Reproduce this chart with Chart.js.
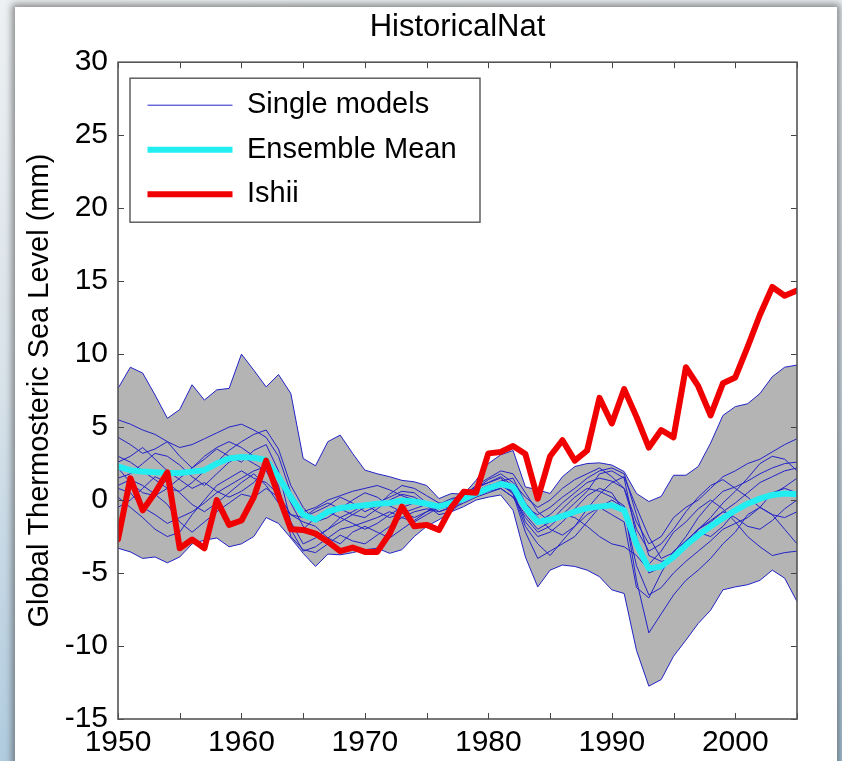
<!DOCTYPE html>
<html>
<head>
<meta charset="utf-8">
<title>HistoricalNat</title>
<script src="https://cdn.jsdelivr.net/npm/chart.js@4.4.1/dist/chart.umd.min.js"></script>
<style>
  body {
    margin: 0;
    width: 842px;
    height: 761px;
    overflow: hidden;
    position: relative;
    background: linear-gradient(175deg, #eef1f3 0%, #d9e3ea 45%, #a9c8de 100%);
  }
  .panel {
    position: absolute;
    left: 15px;
    top: 7px;
    width: 822px;
    height: 790px;
    background: #fff;
    box-shadow: 0 0 7px 3px rgba(70, 70, 70, 0.6);
  }
  #chart {
    position: absolute;
    left: 0;
    top: 0;
  }
</style>
</head>
<body>
<div class="panel"></div>
<canvas id="chart" width="842" height="761"></canvas>
<script>
// Years on the x axis
var years = [
  1950, 1951, 1952, 1953, 1954, 1955, 1956, 1957, 1958, 1959,
  1960, 1961, 1962, 1963, 1964, 1965, 1966, 1967, 1968, 1969,
  1970, 1971, 1972, 1973, 1974, 1975, 1976, 1977, 1978, 1979,
  1980, 1981, 1982, 1983, 1984, 1985, 1986, 1987, 1988, 1989,
  1990, 1991, 1992, 1993, 1994, 1995, 1996, 1997, 1998, 1999,
  2000, 2001, 2002, 2003, 2004, 2005
];

// Ishii observations (mm)
var ishii = [
  -2.7, 1.5, -0.7, 0.5, 1.9, -3.3, -2.7, -3.3, 0.0, -1.7,
  -1.4, 0.2, 2.7, 0.3, -2.0, -2.05, -2.3, -2.85, -3.5, -3.25,
  -3.55, -3.55, -2.3, -0.45, -1.8, -1.7, -2.05, -0.5, 0.57, 0.5,
  3.2, 3.3, 3.7, 3.15, 0.1, 3.0, 4.1, 2.7, 3.4, 7.0,
  5.25, 7.6, 5.7, 3.6, 4.8, 4.3, 9.1, 7.8, 5.8, 8.0,
  8.4, 10.5, 12.7, 14.6, 14.0, 14.35
];

// Ensemble mean
var ensembleMean = [
  2.3, 2.05, 1.95, 1.9, 1.85, 1.85, 1.95, 2.05, 2.5, 2.85,
  2.95, 2.9, 2.75, 1.6, 0.2, -1.0, -1.35, -0.8, -0.55, -0.45,
  -0.35, -0.25, -0.2, -0.05, -0.1, -0.25, -0.45, -0.2, 0.1, 0.45,
  0.8, 1.1, 0.9, -0.55, -1.5, -1.35, -1.1, -0.8, -0.55, -0.45,
  -0.35, -0.7, -3.0, -4.7, -4.55, -3.9, -3.1, -2.4, -1.8, -1.25,
  -0.7, -0.25, 0.1, 0.35, 0.45, 0.4
];

// Model spread (max / min of the single models)
var spreadMax = [
  7.65, 9.1, 8.7, 7.2, 5.6, 6.2, 7.9, 6.85, 7.55, 7.65,
  10.0, 8.9, 7.75, 8.6, 7.3, 2.85, 2.35, 4.0, 4.45, 3.2,
  2.05, 1.8, 1.6, 1.35, 1.25, 1.0, 0.1, 0.45, 0.4, 1.35,
  2.5, 3.1, 3.4, 0.9, 0.7, 0.45, 1.6, 2.3, 2.5, 2.55,
  2.4, 1.95, 0.45, -0.1, 0.25, 1.7, 1.7, 2.3, 3.9, 5.8,
  6.4, 6.6, 7.3, 8.45, 9.1, 9.25
];
var spreadMin = [
  -3.3, -3.55, -4.0, -3.9, -4.3, -3.9, -3.0, -2.75, -2.6, -3.2,
  -3.0, -2.5, -1.2, -1.6, -2.6, -3.65, -4.55, -3.7, -3.75, -3.6,
  -3.4, -3.3, -3.65, -3.4, -2.5, -1.8, -1.35, -0.8, -0.45, 0.0,
  0.2, 0.35, -0.7, -3.9, -5.95, -4.8, -4.45, -4.55, -4.8, -5.25,
  -6.15, -6.4, -10.3, -12.75, -12.3, -10.7, -9.6, -8.45, -7.55, -6.15,
  -5.95, -5.8, -5.5, -4.8, -5.35, -6.95
];

// Single model runs
var modelA = [
  5.5, 5.2, 4.8, 4.5, 4.0, 3.6, 3.8, 4.2, 4.6, 5.0,
  5.2, 4.8, 4.3, 3.0, 0.5, -0.8, -0.5, 0.0, 0.3, 0.6,
  0.8, 1.0, 0.7, 0.3, 0.0, -0.4, -0.6, -0.3, 0.3, 0.8,
  1.2, 1.6, 1.0, -0.8, -1.5, -1.0, -0.2, 0.5, 1.2, 1.5,
  1.3, 0.8, -1.5, -3.0, -2.5, -1.2, -0.5, 0.0, 0.8, 1.6,
  2.0, 2.5, 2.8, 3.3, 3.8, 4.2
];
var modelB = [
  4.3, 3.8, 3.2, 3.5, 4.0, 3.0, 2.2, 2.8, 3.5, 3.0,
  2.6, 3.4, 3.8, 2.0, -1.5, -3.0, -2.6, -2.0, -1.2, -0.8,
  -0.3, -0.8, -1.2, -0.9, -0.6, -0.3, -0.6, -0.4, 0.2, 0.4,
  0.9, 1.3, 1.5, -0.2, -1.2, -2.0, -2.4, -1.8, -0.6, 0.4,
  1.2, 1.6, -0.5, -2.5, -4.0, -3.6, -2.5, -1.2, -0.2, 0.6,
  0.9, 1.3, 1.8, 2.2, 2.5, 2.6
];
var modelC = [
  0.8, 0.5, -0.5, -1.0, -1.6, -1.2, -0.8, -0.2, 0.5, 1.0,
  1.5, 2.0, 2.3, 1.5, -0.2, -1.8, -2.5, -2.0, -1.5, -1.0,
  -0.5, -0.2, 0.2, 0.6, 0.5, -0.2, -0.8, -0.5, 0.0, 0.5,
  0.8, 1.0, 0.6, -1.5, -2.5, -2.2, -1.5, -0.6, 0.3, 0.8,
  0.5, -0.8, -4.5, -6.5, -6.0, -5.0, -4.2, -3.5, -2.8, -2.0,
  -1.6, -1.2, -0.5, 0.5, 0.8, 0.5
];
var modelD = [
  3.0, 2.6, 2.0, 1.4, 0.8, 0.6, 1.2, 2.0, 2.6, 3.4,
  4.0, 4.5, 4.8, 3.5, 1.0, -0.5, -1.5, -1.2, -0.6, 0.0,
  0.5, 0.2, -0.4, -0.8, -1.2, -0.8, -0.3, 0.1, 0.3, 1.0,
  1.5, 2.0, 1.8, 0.5, -0.8, -1.5, -1.0, -0.2, 0.6, 1.8,
  2.0, 1.5, -2.5, -5.0, -4.6, -3.8, -2.8, -2.0, -1.5, -0.8,
  -0.2, 0.5, 1.2, 1.6, 2.0, 2.2
];
var modelE = [
  1.5, 1.8, 2.5, 3.2, 3.0, 2.4, 1.6, 1.0, 1.8, 2.6,
  3.0, 2.5, 2.0, 0.5, -2.0, -3.5, -3.2, -2.6, -2.0, -1.8,
  -1.5, -1.2, -0.8, -1.2, -1.5, -1.0, -0.5, 0.0, 0.4, 0.6,
  1.0, 1.2, 0.4, -2.2, -4.0, -3.5, -3.0, -2.5, -1.5, -0.5,
  0.0, -0.5, -5.5, -9.1, -7.8, -6.5, -5.5, -4.8, -4.0, -3.0,
  -2.2, -1.0, -0.5, -1.0, -2.0, -3.0
];
var modelF = [
  2.2, 1.2, 0.5, 0.3, 0.8, 1.5, 2.2, 3.0, 3.6, 4.0,
  3.6, 3.0, 2.6, 1.0, -2.5, -3.4, -3.6, -3.0, -2.4, -2.8,
  -3.0, -2.4, -1.8, -1.2, -0.8, -0.6, -0.8, -0.5, 0.0, 0.3,
  0.6, 0.8, 0.2, -1.0, -2.0, -1.5, -0.6, 0.2, 0.8, 0.6,
  0.2, -0.4, -3.0, -4.4, -3.5, -2.2, -1.5, -0.6, 0.0, -0.6,
  -1.5, -2.5, -3.2, -3.8, -3.6, -3.5
];
var modelG = [
  -0.5, 0.0, 0.8, 1.6, 1.2, 0.5, -0.3, -0.8, -0.2, 0.5,
  1.2, 1.8, 1.0, -0.2, -1.0, -1.5, -1.8, -2.6, -3.0, -2.2,
  -1.8, -2.2, -2.6, -2.0, -1.4, -0.8, -0.5, -0.2, 0.3, 0.8,
  1.4, 1.8, 1.2, 0.2, -0.5, 0.0, 0.8, 1.4, 1.8, 2.2,
  1.6, 0.8, -2.0, -3.5, -3.0, -2.0, -0.8, 0.2, 1.0, 1.4,
  0.8, 0.2, -0.5, -1.0, -1.2, -0.8
];
var modelH = [
  1.0, 1.4, 1.0, 0.4, -0.3, -1.5, -2.2, -1.5, -0.8, -0.2,
  0.4, 0.2, 0.8, 0.2, -1.8, -2.0, -1.2, -0.8, -1.2, -1.6,
  -2.0, -1.6, -1.0, -0.5, -0.2, -0.4, -1.0, -0.8, 0.0, 0.4,
  0.7, 1.0, 0.5, -1.8, -3.0, -3.8, -2.8, -1.8, -1.0, -0.5,
  -1.0, -1.5, -6.0, -6.7, -5.0, -3.5, -2.8, -2.2, -2.5, -1.8,
  -0.8, -0.3, 0.2, 0.4, 0.9, 1.5
];
var modelI = [
  2.6, 3.0, 3.6, 2.8, 2.0, 1.4, 0.8, 1.2, 0.6, 0.2,
  0.6, 1.2, 2.2, 1.8, 0.0, -1.2, -0.8, -0.4, 0.2, -0.2,
  -0.8, -0.4, 0.4, 1.0, 0.8, 0.3, -0.2, -0.3, 0.4, 0.9,
  1.2, 1.5, 0.8, -0.5, -1.0, -0.5, 0.2, 0.8, 1.5, 2.0,
  2.2, 1.8, -1.0, -3.8, -4.2, -4.0, -3.2, -2.0, -1.2, -0.2,
  0.6, 1.5, 2.5, 3.0, 2.8, 2.0
];
var modelJ = [
  0.2, -0.5, -1.2, -2.0, -2.5, -2.2, -1.0, 0.0, 1.0, 1.5,
  2.0, 1.5, 1.2, 0.4, -1.0, -1.2, -0.6, -0.2, -0.6, -1.0,
  -1.2, -0.6, 0.0, 0.4, 0.2, -0.3, -0.4, -0.6, -0.2, 0.2,
  0.5, 0.8, 0.2, -1.2, -2.2, -1.8, -1.0, -1.2, -1.8, -2.5,
  -3.0, -3.2, -3.8, -4.8, -4.4, -3.8, -2.8, -2.0, -1.4, -0.8,
  -1.2, -1.8, -2.0, -1.4, -0.6, 0.0
];
var singleModels = [modelA, modelB, modelC, modelD, modelE, modelF, modelG, modelH, modelI, modelJ];

var yTicks = [-15, -10, -5, 0, 5, 10, 15, 20, 25, 30];

var MODEL_BLUE = '#2323c8';
var FONT = '"Liberation Sans", Arial, Helvetica, sans-serif';

function toPoints(values) {
  return years.map(function(yr, i) { return { x: yr, y: values[i] }; });
}

// Inward MATLAB-style tick marks and the box round the axes
var boxTicksPlugin = {
  id: 'boxTicks',
  afterDatasetsDraw: function(chart) {
    var ctx = chart.ctx;
    var a = chart.chartArea;
    var xs = chart.scales.x;
    var ys = chart.scales.y;
    var len = 6;
    ctx.save();
    ctx.strokeStyle = '#444';
    ctx.lineWidth = 1;
    ctx.beginPath();
    xs.ticks.forEach(function(t) {
      var px = Math.round(xs.getPixelForValue(t.value)) + 0.5;
      ctx.moveTo(px, a.bottom); ctx.lineTo(px, a.bottom - len);
      ctx.moveTo(px, a.top); ctx.lineTo(px, a.top + len);
    });
    ys.ticks.forEach(function(t) {
      var py = Math.round(ys.getPixelForValue(t.value)) + 0.5;
      ctx.moveTo(a.left, py); ctx.lineTo(a.left + len, py);
      ctx.moveTo(a.right, py); ctx.lineTo(a.right - len, py);
    });
    ctx.stroke();
    ctx.lineWidth = 1.6;
    ctx.strokeStyle = '#555';
    ctx.strokeRect(a.left, a.top, a.right - a.left, a.bottom - a.top);
    ctx.restore();
  }
};

// Put the legend inside the axes, top left, and frame it
var legendBoxPlugin = {
  id: 'legendBox',
  beforeDraw: function(chart) {
    var lg = chart.legend;
    if (!lg) return;
    var w = lg.width, h = lg.height;
    lg.left = chart.chartArea.left + 14;
    lg.top = chart.chartArea.top + 13;
    lg.right = lg.left + w;
    lg.bottom = lg.top + h;
  },
  afterDraw: function(chart) {
    var lg = chart.legend;
    if (!lg) return;
    var ctx = chart.ctx;
    ctx.save();
    ctx.strokeStyle = '#555';
    ctx.lineWidth = 1.4;
    ctx.strokeRect(lg.left - 2, lg.top + 3, 350, 144);
    ctx.restore();
  }
};

var datasets = singleModels.map(function(m, i) {
  return {
    label: 'Single models',
    inLegend: i === 0,
    data: toPoints(m),
    borderColor: MODEL_BLUE,
    backgroundColor: MODEL_BLUE,
    borderWidth: 1,
    order: 2
  };
});
datasets.push({
  label: 'Ensemble Mean',
  inLegend: true,
  data: toPoints(ensembleMean),
  borderColor: '#22eef2',
  backgroundColor: '#22eef2',
  borderWidth: 6,
  order: 1
});
datasets.push({
  label: 'Ishii',
  inLegend: true,
  data: toPoints(ishii),
  borderColor: '#f00000',
  backgroundColor: '#f00000',
  borderWidth: 6,
  order: 0
});
datasets.push({
  label: 'Spread max',
  inLegend: false,
  data: toPoints(spreadMax),
  borderColor: MODEL_BLUE,
  backgroundColor: '#b4b4b4',
  borderWidth: 1,
  fill: '+1',
  order: 4
});
datasets.push({
  label: 'Spread min',
  inLegend: false,
  data: toPoints(spreadMin),
  borderColor: MODEL_BLUE,
  backgroundColor: '#b4b4b4',
  borderWidth: 1,
  order: 3
});

Chart.defaults.font.family = FONT;
Chart.defaults.color = '#000';

new Chart(document.getElementById('chart'), {
  type: 'line',
  data: { datasets: datasets },
  options: {
    responsive: false,
    animation: false,
    events: [],
    layout: { padding: { left: 0, right: 45, top: 0, bottom: 0 } },
    elements: {
      point: { radius: 0 },
      line: { tension: 0, borderJoinStyle: 'round', borderCapStyle: 'round' }
    },
    plugins: {
      title: {
        display: true,
        text: 'HistoricalNat',
        fullSize: false,
        color: '#000',
        font: { size: 31, weight: 'normal' },
        padding: { top: 9, bottom: 16 }
      },
      legend: {
        display: true,
        position: 'chartArea',
        align: 'start',
        labels: {
          usePointStyle: true,
          pointStyle: 'line',
          pointStyleWidth: 85,
          padding: 15.5,
          color: '#000',
          font: { size: 29 },
          filter: function(item, data) {
            return data.datasets[item.datasetIndex].inLegend;
          },
          sort: function(a, b) { return a.datasetIndex - b.datasetIndex; }
        }
      },
      tooltip: { enabled: false }
    },
    scales: {
      x: {
        type: 'linear',
        min: years[0],
        max: years[years.length - 1],
        grid: { display: false, drawTicks: false },
        border: { display: false },
        afterFit: function(scale) { scale.height = 42; },
        ticks: {
          stepSize: 5,
          autoSkip: false,
          maxRotation: 0,
          padding: 6,
          color: '#000',
          font: { size: 30 },
          callback: function(v) { return v % 10 === 0 ? String(v) : ''; }
        }
      },
      y: {
        min: yTicks[0],
        max: yTicks[yTicks.length - 1],
        grid: { display: false, drawTicks: false },
        border: { display: false },
        afterFit: function(scale) { scale.width = 118; },
        afterBuildTicks: function(scale) {
          scale.ticks = yTicks.map(function(v) { return { value: v }; });
        },
        title: {
          display: true,
          text: 'Global Thermosteric Sea Level (mm)',
          color: '#000',
          font: { size: 29 },
          padding: { top: 23, bottom: 0 }
        },
        ticks: {
          padding: 10,
          color: '#000',
          font: { size: 30 }
        }
      }
    }
  },
  plugins: [boxTicksPlugin, legendBoxPlugin]
});
</script>
</body>
</html>
